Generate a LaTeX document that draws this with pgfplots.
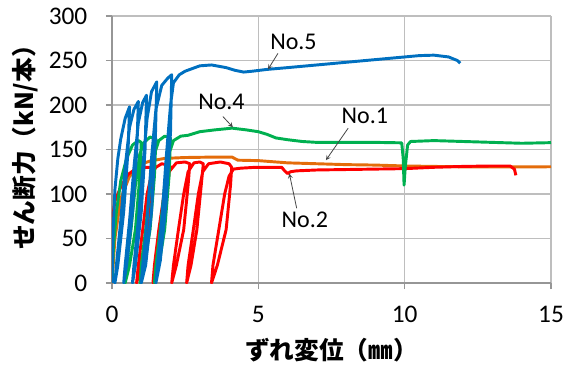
\documentclass[border=0pt]{standalone}
\usepackage{pgfplots}
\pgfplotsset{compat=1.18}
\usepackage{fontspec}
\setmainfont{Carlito}
\newfontfamily\cjk{Noto Sans CJK JP}
\definecolor{c1}{RGB}{228,108,10}
\definecolor{c2}{RGB}{255,0,0}
\definecolor{c4}{RGB}{0,176,80}
\definecolor{c5}{RGB}{0,112,192}
\definecolor{gridc}{RGB}{190,190,190}
\definecolor{axc}{RGB}{150,150,150}
\definecolor{arr}{RGB}{70,70,70}
\begin{document}
\begin{tikzpicture}
\useasboundingbox (-84pt,-61.5pt) rectangle (347.25pt,212.25pt);
\begin{axis}[
  at={(0,0)}, anchor=south west,
  scale only axis, width=329.25pt, height=200.25pt,
  xmin=0, xmax=15, ymin=0, ymax=300,
  xtick={0,5,10,15}, ytick={0,50,...,300},
  grid=major, major grid style={gridc, line width=0.8pt},
  axis line style={axc, line width=0.8pt},
  axis x line*=bottom, axis y line*=left,
  tick align=outside, major tick length=4.5pt,
  tick style={axc, line width=0.8pt},
  /pgf/number format/assume math mode=true,
  tick label style={font=\fontsize{19}{21}\selectfont, black},
  xticklabel style={yshift=-9.5pt},
  yticklabel style={xshift=-10.5pt},
  xlabel={\cjk\bfseries ずれ変位（㎜）},
  ylabel={\cjk\bfseries せん断力（kN/本）},
  xlabel style={at={(axis description cs:0.5,-0.25)}, anchor=center},
  ylabel style={at={(axis description cs:-0.198,0.53)}, anchor=center},
  label style={font=\fontsize{18.5}{20}\selectfont},
  clip=true,
  every axis plot/.append style={line width=2.2pt, line join=round, no markers},
]
% No.1 orange
\addplot[c1] coordinates {(0,0)(0.1,50)(0.3,95)(0.6,120)(0.9,130)(1.07,134.5)(1.3,137)(1.8,140)(2.5,141)(3.5,141.5)(4.1,141.5)(4.3,138)(5,137.5)(6,135)(7,134)(8,133)(9,132.5)(10,131.5)(11,131)(12,130.5)(13,130.5)(14,130.5)(15,130.6)};
% No.2 red
\addplot[c2] coordinates {(0,0)(0.01,30)(0.02,73)(0.1,92)(0.3,108)(0.55,122)(0.8,128)(1.1,130)(1.4,130)
(1.35,110)(1.2,60)(1.0,20)(0.84,0)
(0.9,20)(1.05,60)(1.2,100)(1.35,122)(1.5,130)(1.7,134)(1.98,132)
(1.9,110)(1.75,60)(1.55,20)(1.4,0)
(1.45,20)(1.6,60)(1.78,100)(1.95,125)(2.2,135)(2.5,136)(2.66,134)
(2.6,110)(2.45,60)(2.2,20)(2.04,0)
(2.1,20)(2.27,60)(2.45,100)(2.6,125)(2.8,135)(3.0,136)(3.12,134)
(3.05,110)(2.9,60)(2.7,20)(2.55,0)
(2.6,20)(2.78,60)(2.95,100)(3.1,125)(3.3,134)(3.7,136)(4.0,134)(4.09,130)
(4.05,110)(3.9,60)(3.6,20)(3.4,0)
(3.45,20)(3.65,60)(3.85,100)(4.0,120)(4.15,128)(4.4,129)(4.9,130)(5.5,130)(5.8,130)(5.9,126)(6.0,123)(6.1,125)(6.3,126)(7,127)(8,127.5)(9,128)(10,128.5)(11,130)(12,131)(13,131.5)(13.6,131.5)(13.75,128)(13.8,121)};
% No.4 green
\addplot[c4] coordinates {(0,0)(0.05,40)(0.15,80)(0.3,115)(0.5,140)(0.7,155)(0.9,160)(1.0,158)
(0.95,120)(0.8,60)(0.6,20)(0.45,0)
(0.5,20)(0.65,60)(0.8,110)(0.95,145)(1.1,158)(1.3,164)(1.5,162)
(1.45,120)(1.3,60)(1.1,20)(0.96,0)
(1.0,20)(1.15,60)(1.3,110)(1.45,145)(1.6,160)(1.8,165)(2.0,163)
(1.95,120)(1.8,60)(1.6,20)(1.45,0)
(1.5,20)(1.65,60)(1.8,110)(1.95,145)(2.1,160)(2.35,165)(2.6,166)(3.0,170)(3.5,172)(4.1,174)(4.6,172)(5.0,170)(5.3,167)(5.6,163)(6.0,161)(6.5,159)(7,158)(8,158)(9,158)(9.9,157.5)(9.95,140)(9.98,110)(10.02,130)(10.1,155)(10.2,159)(11,160)(12,159)(13,158)(14,157)(15,157.7)};
% No.5 blue
\addplot[c5] coordinates {(0,0)(0.04,60)(0.1,105)(0.2,140)(0.3,162)(0.45,185)(0.6,198)
(0.55,150)(0.4,80)(0.2,20)(0.1,0)
(0.15,20)(0.3,70)(0.45,130)(0.6,175)(0.75,195)(0.9,204)
(0.85,150)(0.7,80)(0.5,20)(0.4,0)
(0.45,20)(0.6,70)(0.75,130)(0.9,180)(1.05,203)(1.18,211)
(1.13,150)(1.0,80)(0.8,20)(0.7,0)
(0.75,20)(0.9,70)(1.05,130)(1.2,185)(1.35,215)(1.53,226)
(1.48,160)(1.35,80)(1.15,20)(1.0,0)
(1.05,20)(1.2,70)(1.35,140)(1.5,195)(1.7,222)(1.9,230)(2.04,234)
(2.0,170)(1.85,90)(1.65,25)(1.5,0)
(1.55,20)(1.7,70)(1.85,140)(2.0,200)(2.1,225)(2.3,234)(2.5,238)(3.0,244)(3.4,245)(3.9,242)(4.2,239)(4.5,237)(4.8,238)(5.3,240)(6,242)(7,245)(8,248)(9,251)(10,254)(10.5,255.5)(11,256)(11.5,254)(11.8,250)(11.9,247)};
% annotations
\node[font=\fontsize{18}{20}\selectfont] at (axis cs:6.2,271) {No.5};
\node[font=\fontsize{18}{20}\selectfont] at (axis cs:3.74,203) {No.4};
\node[font=\fontsize{18}{20}\selectfont] at (axis cs:8.64,188) {No.1};
\node[font=\fontsize{18}{20}\selectfont] at (axis cs:6.59,71) {No.2};
\draw[arr, line width=0.6pt, -stealth] (axis cs:5.67,258) -- (axis cs:5.33,240);
\draw[arr, line width=0.6pt, -stealth] (axis cs:3.79,187) -- (axis cs:4.13,175);
\draw[arr, line width=0.6pt, -stealth] (axis cs:8.07,174) -- (axis cs:7.31,138);
\draw[arr, line width=0.6pt, -stealth] (axis cs:6.31,84) -- (axis cs:6.06,123);
\end{axis}
\end{tikzpicture}
\end{document}
